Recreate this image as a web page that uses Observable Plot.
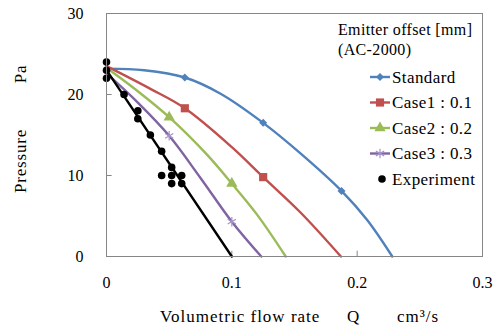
<!DOCTYPE html>
<html><head><meta charset="utf-8">
<script src="https://cdn.jsdelivr.net/npm/d3@7"></script>
<script src="https://cdn.jsdelivr.net/npm/@observablehq/plot@0.6"></script>
<style>
body{margin:0;background:#fff;}
#chart{width:498px;height:325px;}
#chart svg, #chart svg text { font-family: "Liberation Serif", "Times New Roman", serif !important; }
</style></head><body><div id="chart"></div>
<script>
// ---- data ----
const xTicks = [0, 0.1, 0.2, 0.3];
const yTicks = [0, 10, 20, 30];

const standardQ = [0, 0.03, 0.0625, 0.091, 0.125, 0.155, 0.1875, 0.208, 0.228];
const standardP = [23.2, 23.0, 22.1, 20.1, 16.5, 12.7, 8.1, 4.5, 0];
const standardMarkQ = [0.0625, 0.125, 0.1875];
const standardMarkP = [22.1, 16.5, 8.1];

const case1Q = [0, 0.035, 0.0625, 0.1, 0.125, 0.155, 0.187];
const case1P = [23.5, 20.7, 18.3, 13.5, 9.8, 5.4, 0];
const case1MarkQ = [0.0625, 0.125];
const case1MarkP = [18.3, 9.8];

const case2Q = [0, 0.025, 0.05, 0.08, 0.1, 0.12, 0.143];
const case2P = [23.3, 20.4, 17.2, 12.6, 9.0, 5.2, 0];
const case2MarkQ = [0.05, 0.1];
const case2MarkP = [17.2, 9.0];

const case3Q = [0, 0.025, 0.05, 0.075, 0.1, 0.1235];
const case3P = [22.6, 19.0, 14.9, 9.7, 4.3, 0];
const case3MarkQ = [0.05, 0.1];
const case3MarkP = [14.9, 4.3];

const fitQ = [0, 0.1];
const fitP = [23, 0];

const expQ = [0, 0, 0, 0.014, 0.025, 0.025, 0.035, 0.044, 0.044, 0.052, 0.052, 0.052, 0.06, 0.06];
const expP = [24, 23, 22, 20, 18, 17, 15, 13, 10, 11, 10, 9, 10, 9];

const legendTitle = ["Emitter offset [mm]", "(AC-2000)"];
const seriesNames = ["Standard", "Case1 : 0.1", "Case2 : 0.2", "Case3 : 0.3", "Experiment"];
const seriesColors = ["#4F81BD", "#C0504D", "#9BBB59", "#8064A2", "#000000"];
const seriesSymbols = ["diamond2", "square", "triangle", "asterisk", "circle"];

const xTitle = ["Volumetric flow rate", "Q", "cm³/s"];
const yTitle = ["Pressure", "Pa"];

// ---- build tables ----
const zip = (a, b) => a.map((q, i) => ({q, p: b[i]}));
const curves = [
  zip(standardQ, standardP), zip(case1Q, case1P), zip(case2Q, case2P), zip(case3Q, case3P)
];
const marks = [
  zip(standardMarkQ, standardMarkP), zip(case1MarkQ, case1MarkP),
  zip(case2MarkQ, case2MarkP), zip(case3MarkQ, case3MarkP)
];
const fit = zip(fitQ, fitP);
const exp = zip(expQ, expP);

const AX = "#868686";

const markerOpts = (i) => {
  const sym = seriesSymbols[i];
  if (sym === "asterisk") return {symbol: sym, r: 4.5, stroke: "#A493C8", strokeWidth: 1.2, fill: "none"};
  if (sym === "triangle") return {symbol: sym, r: 4.2, fill: seriesColors[i], stroke: "none"};
  if (sym === "square") return {symbol: sym, r: 4.6, fill: seriesColors[i], stroke: "none"};
  if (sym === "circle") return {symbol: sym, r: 3.8, fill: seriesColors[i], stroke: "none"};
  return {symbol: sym, r: 3.6, fill: seriesColors[i], stroke: "none"};
};

const plot = Plot.plot({
  width: 498, height: 325,
  marginLeft: 106, marginRight: 16, marginTop: 13, marginBottom: 69,
  style: {fontSize: "16px", color: "#000", background: "#fff"},
  x: {domain: [0, 0.3], ticks: xTicks, tickFormat: d => String(d), tickSize: 0, tickPadding: 20, label: null},
  y: {domain: [0, 30], ticks: yTicks, tickSize: 0, tickPadding: 23, label: null},
  marks: [
    Plot.ruleY(yTicks.slice(1, -1), {x1: 0, x2: 0.0045, stroke: AX}),
    Plot.ruleX(xTicks.slice(1, -1), {y1: 0, y2: 0.65, stroke: AX}),
    ...curves.map((c, i) => Plot.line(c, {x: "q", y: "p", stroke: seriesColors[i], strokeWidth: 2.4, curve: "catmull-rom"})),
    ...marks.map((m, i) => Plot.dot(m, {x: "q", y: "p", ...markerOpts(i)})),
    Plot.line(fit, {x: "q", y: "p", stroke: "#000", strokeWidth: 2.4}),
    Plot.dot(exp, {x: "q", y: "p", r: 3.8, fill: "#000"}),
    Plot.frame({stroke: AX})
  ]
});
document.getElementById("chart").appendChild(plot);

// ---- titles & legend ----
const svg = d3.select(plot);
const t = svg.append("g").attr("font-size", 17).attr("fill", "#000").attr("text-anchor", "start");

const xt = t.append("text").attr("y", 322).attr("letter-spacing", "1px");
xt.append("tspan").attr("x", 160).text(xTitle[0]);
xt.append("tspan").attr("x", 347).text(xTitle[1]);
xt.append("tspan").attr("x", 397).text(xTitle[2]);

const yt = t.append("text").attr("transform", "translate(25.5,0) rotate(-90)").attr("text-anchor", "middle").attr("letter-spacing", "0.8px");
yt.append("tspan").attr("x", -161).text(yTitle[0]);
yt.append("tspan").attr("x", -74).text(yTitle[1]);

const lg = svg.append("g").attr("font-size", 16).attr("fill", "#000").attr("text-anchor", "start");
lg.append("text").attr("x", 338).attr("y", 35).attr("letter-spacing", "0.35px").text(legendTitle[0]);
lg.append("text").attr("x", 338).attr("y", 55).attr("letter-spacing", "0.35px").text(legendTitle[1]);
const symbolMap = {diamond2: d3.symbolDiamond2, square: d3.symbolSquare, triangle: d3.symbolTriangle, asterisk: d3.symbolAsterisk, circle: d3.symbolCircle};
seriesNames.forEach((name, i) => {
  const cy = 77 + i * 25.5;
  if (i < 4) {
    lg.append("line").attr("x1", 370).attr("x2", 390).attr("y1", cy).attr("y2", cy)
      .attr("stroke", seriesColors[i]).attr("stroke-width", 2.4);
  }
  const o = markerOpts(i);
  const sym = d3.symbol(symbolMap[seriesSymbols[i]], Math.PI * o.r * o.r)();
  lg.append("path").attr("d", sym).attr("transform", `translate(${i === 4 ? 382 : 380},${cy})`)
    .attr("fill", o.fill).attr("stroke", o.stroke).attr("stroke-width", o.strokeWidth || 0);
  lg.append("text").attr("x", 392).attr("y", cy).attr("dy", "0.35em").attr("font-size", 17).attr("letter-spacing", "0.4px").text(name);
});
</script></body></html>
